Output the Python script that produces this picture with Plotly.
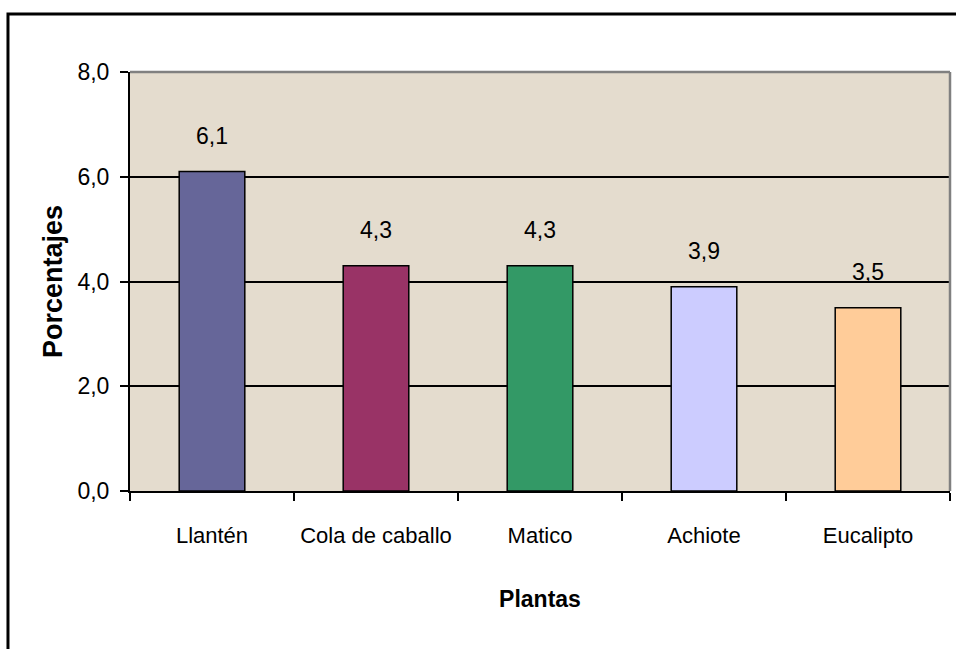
import plotly.graph_objects as go

# Survey results: share of respondents per medicinal plant
plantas = ["Llantén", "Cola de caballo", "Matico", "Achiote", "Eucalipto"]
porcentajes = [6.1, 4.3, 4.3, 3.9, 3.5]
colores = ["#666699", "#993366", "#339966", "#CCCCFF", "#FFCC99"]
y_ticks = [0, 2, 4, 6, 8]

FONT = "Liberation Sans, Arial, sans-serif"

fig = go.Figure()
fig.add_trace(go.Bar(
    x=plantas,
    y=porcentajes,
    marker=dict(color=colores, line=dict(color="black", width=1.5)),
    hoverinfo="skip",
))

# value labels above each bar
for p, v in zip(plantas, porcentajes):
    fig.add_annotation(
        x=p, y=v, text=f"{v:.1f}".replace(".", ","),
        showarrow=False, yanchor="middle", yshift=36,
        font=dict(family=FONT, size=23, color="black"),
    )

# outer chart frame
fig.add_shape(type="rect", xref="paper", yref="paper",
              x0=-0.1488, x1=1.02, y0=-0.40, y1=1.1384,
              line=dict(color="black", width=3), layer="below")
# plot-area border: grey top and right edges
fig.add_shape(type="line", xref="paper", yref="paper", x0=0, x1=1, y0=1, y1=1,
              line=dict(color="#808080", width=2.5))
fig.add_shape(type="line", xref="paper", yref="paper", x0=1, x1=1, y0=0, y1=1,
              line=dict(color="#808080", width=2.5))

fig.update_layout(
    width=956, height=649,
    margin=dict(l=130, r=6, t=72, b=158),
    paper_bgcolor="white",
    plot_bgcolor="#E4DCCE",
    separators=",.",
    bargap=0.6,
    showlegend=False,
    font=dict(family=FONT, size=22, color="black"),
)
fig.update_xaxes(
    automargin=False, tickangle=0,
    showgrid=False, showline=True, linecolor="black", linewidth=2,
    ticks="outside", tickson="boundaries", ticklen=8, tickwidth=2, tickcolor="black",
    tickfont=dict(family=FONT, size=22), ticklabelstandoff=24,
    title=dict(text="<b>Plantas</b>", font=dict(family=FONT, size=23), standoff=43),
)
fig.update_yaxes(
    automargin=False, range=[0, 8], tickvals=y_ticks, tickformat=".1f",
    showgrid=True, gridcolor="black", gridwidth=2,
    zeroline=False, showline=True, linecolor="black", linewidth=2,
    ticks="outside", ticklen=8, tickwidth=2, tickcolor="black",
    tickfont=dict(family=FONT, size=23), ticklabelstandoff=6,
    title=dict(text="<b>Porcentajes</b>", font=dict(family=FONT, size=27), standoff=7),
)

fig.write_html("out.html")
